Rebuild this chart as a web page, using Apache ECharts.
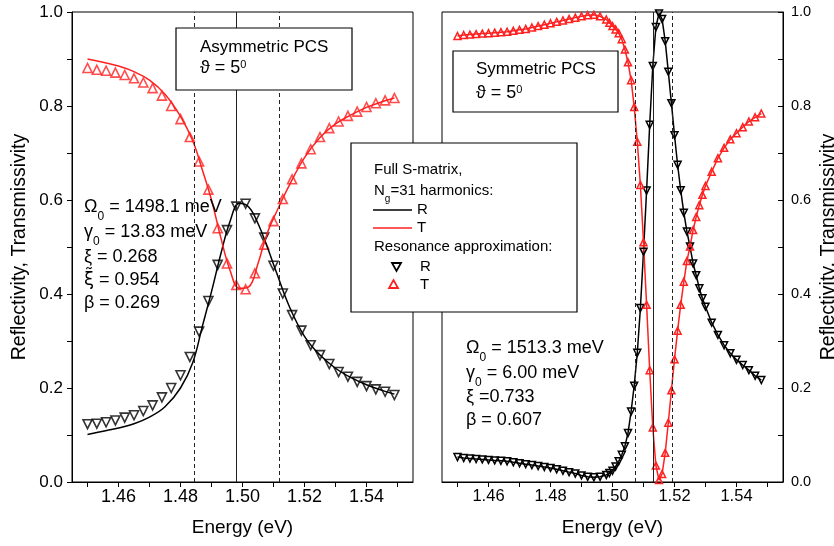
<!DOCTYPE html>
<html>
<head>
<meta charset="utf-8">
<script src="https://cdn.jsdelivr.net/npm/echarts@6/dist/echarts.min.js"></script>
<style>
html, body { margin: 0; padding: 0; background: #fff; }
#chart { width: 834px; height: 546px; }
</style>
</head>
<body>
<div id="chart"></div>
<script>
// ---- left panel: asymmetric PCS ----
// resonance approximation points (eV)
var leftE = [1.450, 1.453, 1.456, 1.459, 1.462, 1.465, 1.468, 1.471, 1.474, 1.477, 1.480, 1.483,
  1.486, 1.489, 1.492, 1.495, 1.498, 1.501, 1.504, 1.507, 1.510, 1.513, 1.516, 1.519, 1.522,
  1.525, 1.528, 1.531, 1.534, 1.537, 1.540, 1.543, 1.546, 1.549];
var leftRfit = [0.123, 0.124, 0.127, 0.131, 0.137, 0.142, 0.151, 0.163, 0.180, 0.200, 0.227, 0.266,
  0.320, 0.385, 0.462, 0.536, 0.586, 0.592, 0.561, 0.520, 0.460, 0.401, 0.355, 0.322, 0.291,
  0.270, 0.251, 0.234, 0.224, 0.213, 0.204, 0.197, 0.192, 0.185];
var leftTfit = [0.881, 0.877, 0.875, 0.871, 0.866, 0.859, 0.850, 0.838, 0.822, 0.800, 0.772, 0.734,
  0.682, 0.622, 0.540, 0.465, 0.419, 0.410, 0.444, 0.505, 0.555, 0.602, 0.644, 0.678, 0.708,
  0.734, 0.753, 0.767, 0.779, 0.788, 0.798, 0.806, 0.812, 0.817];
// full S-matrix curves
var leftLineE = [1.450, 1.455, 1.460, 1.465, 1.470, 1.475, 1.480, 1.484, 1.487, 1.490, 1.493, 1.496,
  1.499, 1.502, 1.505, 1.508, 1.511, 1.515, 1.520, 1.525, 1.530, 1.535, 1.540, 1.545, 1.549];
var leftRline = [0.101, 0.108, 0.115, 0.124, 0.138, 0.160, 0.200, 0.255, 0.330, 0.405, 0.485, 0.555,
  0.593, 0.585, 0.550, 0.500, 0.445, 0.375, 0.310, 0.270, 0.242, 0.222, 0.207, 0.195, 0.187];
var leftTline = [0.900, 0.893, 0.885, 0.873, 0.855, 0.825, 0.778, 0.725, 0.665, 0.600, 0.520, 0.450,
  0.412, 0.415, 0.465, 0.530, 0.575, 0.630, 0.690, 0.733, 0.762, 0.781, 0.797, 0.809, 0.817];
// Omega0 - gamma0, Omega0, Omega0 + gamma0
var leftMarks = [1.4843, 1.4981, 1.5119];

// ---- right panel: symmetric PCS ----
var rightE = [1.450, 1.452, 1.454, 1.456, 1.458, 1.460, 1.462, 1.464, 1.466, 1.468, 1.470, 1.472,
  1.474, 1.476, 1.478, 1.480, 1.482, 1.484, 1.486, 1.488, 1.490, 1.492, 1.494, 1.496, 1.498,
  1.499, 1.500, 1.501, 1.502, 1.503, 1.504, 1.505, 1.506, 1.507, 1.508, 1.509, 1.510, 1.511,
  1.512, 1.513, 1.514, 1.515, 1.516, 1.517, 1.518, 1.519, 1.520, 1.521, 1.522, 1.523, 1.524,
  1.525, 1.526, 1.527, 1.528, 1.529, 1.530, 1.532, 1.534, 1.536, 1.538, 1.540, 1.542, 1.544,
  1.546, 1.548];
var rightR = [0.053, 0.051, 0.050, 0.049, 0.048, 0.047, 0.046, 0.045, 0.044, 0.042, 0.040, 0.038,
  0.036, 0.034, 0.032, 0.030, 0.027, 0.024, 0.021, 0.018, 0.014, 0.011, 0.010, 0.011, 0.015,
  0.019, 0.024, 0.033, 0.044, 0.058, 0.076, 0.104, 0.150, 0.205, 0.275, 0.370, 0.490, 0.620,
  0.760, 0.885, 0.968, 0.997, 0.985, 0.938, 0.873, 0.806, 0.738, 0.675, 0.621, 0.573, 0.533,
  0.501, 0.465, 0.440, 0.412, 0.391, 0.373, 0.339, 0.313, 0.291, 0.274, 0.260, 0.249, 0.238,
  0.226, 0.217];
var rightT = [0.949, 0.951, 0.952, 0.953, 0.954, 0.955, 0.956, 0.957, 0.958, 0.960, 0.962, 0.964,
  0.967, 0.970, 0.973, 0.976, 0.979, 0.982, 0.985, 0.988, 0.991, 0.993, 0.994, 0.991, 0.984,
  0.977, 0.970, 0.963, 0.955, 0.942, 0.920, 0.893, 0.855, 0.798, 0.724, 0.632, 0.510, 0.377,
  0.238, 0.116, 0.035, 0.004, 0.017, 0.062, 0.126, 0.195, 0.261, 0.322, 0.377, 0.426, 0.470,
  0.501, 0.536, 0.564, 0.589, 0.611, 0.630, 0.660, 0.689, 0.711, 0.729, 0.742, 0.755, 0.767,
  0.776, 0.784];
var rightMarks = [1.5073, 1.5133, 1.5193];

// axes
var xTicks = [1.45, 1.46, 1.47, 1.48, 1.49, 1.50, 1.51, 1.52, 1.53, 1.54, 1.55];
var xLabels = [1.46, 1.48, 1.50, 1.52, 1.54];
var yTicks = [0, 0.1, 0.2, 0.3, 0.4, 0.5, 0.6, 0.7, 0.8, 0.9, 1.0];
var yLabels = [0, 0.2, 0.4, 0.6, 0.8, 1.0];

var FONT = 'Liberation Sans, Arial, sans-serif';
var RED = '#ff2020';

function zip(a, b) {
  return a.map(function (v, i) { return [v, b[i]]; });
}

function xAxisOf(idx, fs) {
  return {
    gridIndex: idx, type: 'value', min: 1.445, max: 1.555,
    axisLine: { lineStyle: { color: '#000', width: 1 } },
    axisTick: { customValues: xTicks, length: 5, lineStyle: { color: '#000' } },
    axisLabel: { customValues: xLabels, margin: 6, fontSize: fs, fontFamily: FONT, color: '#000',
      formatter: function (v) { return v.toFixed(2); } },
    splitLine: { show: false },
    name: 'Energy (eV)', nameLocation: 'middle', nameGap: 36,
    nameTextStyle: { fontSize: 19, fontFamily: FONT, color: '#000' }
  };
}

function vLines(marks) {
  return {
    silent: true, precision: 4, symbol: ['none', 'none'], label: { show: false },
    lineStyle: { color: '#222', width: 1 },
    data: marks.map(function (v, i) {
      return { xAxis: v, lineStyle: { type: i === 1 ? 'solid' : [4, 3], color: '#222', width: 1 } };
    })
  };
}

var myChart = echarts.init(document.getElementById('chart'));

var richP = {
  b: { fontSize: 18, fontFamily: FONT, fill: '#000', verticalAlign: 'top' },
  h: { fontSize: 17, fontFamily: FONT, fill: '#000', verticalAlign: 'top' },
  g: { fontSize: 18, fontFamily: 'DejaVu Sans', fill: '#000', verticalAlign: 'top' },
  s: { fontSize: 12, fontFamily: FONT, fill: '#000', verticalAlign: 'top', padding: [13, 0, 0, 0] },
  u: { fontSize: 11, fontFamily: FONT, fill: '#000', verticalAlign: 'top', padding: [0, 0, 0, 0] }
};
var richL = {
  b: { fontSize: 15, fontFamily: FONT, fill: '#000', verticalAlign: 'top' },
  s: { fontSize: 10, fontFamily: FONT, fill: '#000', verticalAlign: 'top', padding: [11, 0, 0, 0] }
};

function txt(x, yc, text, rich, half) {
  return {
    type: 'text', x: x, y: yc - half, z: 110,
    style: { text: text, rich: rich, fill: '#000', verticalAlign: 'top', align: 'left' }
  };
}

var graphics = [
  // Asymmetric box
  { type: 'rect', z: 100, shape: { x: 176, y: 28, width: 176, height: 62 },
    style: { fill: '#fff', stroke: '#000', lineWidth: 1.2 } },
  txt(200, 48, '{h|Asymmetric PCS}', richP, 9),
  txt(200, 68, '{b|\u03d1 = 5}{u|0}', richP, 9),
  // Symmetric box
  { type: 'rect', z: 100, shape: { x: 453, y: 51, width: 165, height: 61 },
    style: { fill: '#fff', stroke: '#000', lineWidth: 1.2 } },
  txt(476, 70, '{h|Symmetric PCS}', richP, 9),
  txt(476, 93, '{b|\u03d1 = 5}{u|0}', richP, 9),
  // legend box
  { type: 'rect', z: 100, shape: { x: 351, y: 143, width: 226, height: 169 },
    style: { fill: '#fff', stroke: '#000', lineWidth: 1.2 } },
  txt(374, 170, '{b|Full S-matrix,}', richL, 7.5),
  txt(374, 191, '{b|N}{s|g}{b|=31 harmonics:}', richL, 7.5),
  { type: 'line', z: 110, shape: { x1: 373, y1: 210, x2: 412, y2: 210 }, style: { stroke: '#000', lineWidth: 1.5 } },
  txt(417, 210, '{b|R}', richL, 7.5),
  { type: 'line', z: 110, shape: { x1: 373, y1: 228, x2: 412, y2: 228 }, style: { stroke: RED, lineWidth: 1.5 } },
  txt(417, 228, '{b|T}', richL, 7.5),
  txt(374, 247, '{b|Resonance approximation:}', richL, 7.5),
  { type: 'polygon', z: 110, shape: { points: [[392, 263], [401, 263], [396.5, 271]] },
    style: { fill: 'none', stroke: '#000', lineWidth: 1.8 } },
  txt(420, 267, '{b|R}', richL, 7.5),
  { type: 'polygon', z: 110, shape: { points: [[389, 288], [398, 288], [393.5, 280]] },
    style: { fill: 'none', stroke: RED, lineWidth: 1.8 } },
  txt(420, 285, '{b|T}', richL, 7.5),
  // left parameters
  txt(84, 207, '{b|\u03a9}{s|0}{b| = 1498.1 meV}', richP, 9),
  txt(84, 232, '{b|\u03b3}{s|0}{b| = 13.83 meV}', richP, 9),
  txt(84, 257, '{b|\u03be = 0.268}', richP, 9),
  txt(84, 280, '{g|\u03be\u0303}{b| = 0.954}', richP, 9),
  txt(84, 303, '{b|\u03b2 = 0.269}', richP, 9),
  // right parameters
  txt(466, 348, '{b|\u03a9}{s|0}{b| = 1513.3 meV}', richP, 9),
  txt(466, 373, '{b|\u03b3}{s|0}{b| = 6.00 meV}', richP, 9),
  txt(466, 397, '{b|\u03be =0.733}', richP, 9),
  txt(466, 420, '{b|\u03b2 = 0.607}', richP, 9)
];

var option = {
  animation: false,
  backgroundColor: '#fff',
  grid: [
    { left: 72, top: 12, width: 341, height: 470, outerBoundsMode: 'none', show: true,
      borderColor: '#000', borderWidth: 1, backgroundColor: 'transparent' },
    { left: 442, top: 12, width: 341, height: 470, outerBoundsMode: 'none', show: true,
      borderColor: '#000', borderWidth: 1, backgroundColor: 'transparent' }
  ],
  xAxis: [xAxisOf(0, 18), xAxisOf(1, 16.5)],
  yAxis: [
    { gridIndex: 0, type: 'value', min: 0, max: 1, position: 'left',
      axisLine: { show: true, lineStyle: { color: '#000' } },
      axisTick: { show: true, customValues: yTicks, length: 5, lineStyle: { color: '#000' } },
      axisLabel: { customValues: yLabels, margin: 9, fontSize: 17, fontFamily: FONT, color: '#000',
        formatter: function (v) { return v.toFixed(1); } },
      splitLine: { show: false },
      name: 'Reflectivity, Transmissivity', nameLocation: 'middle', nameGap: 42, nameRotate: 90,
      nameTextStyle: { fontSize: 19.5, fontFamily: FONT, color: '#000' } },
    { gridIndex: 1, type: 'value', min: 0, max: 1, position: 'right',
      axisLine: { show: true, lineStyle: { color: '#000' } },
      axisTick: { show: true, inside: true, customValues: yTicks, length: 5, lineStyle: { color: '#000' } },
      axisLabel: { customValues: yLabels, margin: 8, fontSize: 14.5, fontFamily: FONT, color: '#000',
        formatter: function (v) { return v.toFixed(1); } },
      splitLine: { show: false },
      name: 'Reflectivity, Transmissivity', nameLocation: 'middle', nameGap: 36, nameRotate: 90,
      nameTextStyle: { fontSize: 19.5, fontFamily: FONT, color: '#000' } }
  ],
  series: [
    { name: 'R full', type: 'line', xAxisIndex: 0, yAxisIndex: 0, smooth: 0.4, showSymbol: false,
      data: zip(leftLineE, leftRline), lineStyle: { color: '#000', width: 1.5 }, markLine: vLines(leftMarks) },
    { name: 'T full', type: 'line', xAxisIndex: 0, yAxisIndex: 0, smooth: 0.4, showSymbol: false,
      data: zip(leftLineE, leftTline), lineStyle: { color: RED, width: 1.5 } },
    { name: 'R approx', type: 'scatter', xAxisIndex: 0, yAxisIndex: 0, symbol: 'triangle', symbolRotate: 180,
      symbolSize: 9, data: zip(leftE, leftRfit),
      itemStyle: { color: 'rgba(0,0,0,0)', borderColor: '#000', borderWidth: 1.6 } },
    { name: 'T approx', type: 'scatter', xAxisIndex: 0, yAxisIndex: 0, symbol: 'triangle',
      symbolSize: 9, data: zip(leftE, leftTfit),
      itemStyle: { color: 'rgba(0,0,0,0)', borderColor: RED, borderWidth: 1.6 } },
    { name: 'R sym', type: 'line', xAxisIndex: 1, yAxisIndex: 1, symbol: 'triangle', symbolRotate: 180,
      symbolSize: 7, showSymbol: true, data: zip(rightE, rightR),
      lineStyle: { color: '#000', width: 1.5 },
      itemStyle: { color: 'rgba(0,0,0,0)', borderColor: '#000', borderWidth: 1.5 },
      markLine: vLines(rightMarks) },
    { name: 'T sym', type: 'line', xAxisIndex: 1, yAxisIndex: 1, symbol: 'triangle',
      symbolSize: 7, showSymbol: true, data: zip(rightE, rightT),
      lineStyle: { color: RED, width: 1.5 },
      itemStyle: { color: 'rgba(0,0,0,0)', borderColor: RED, borderWidth: 1.5 } }
  ],
  graphic: graphics
};

myChart.setOption(option);
</script>
</body>
</html>
